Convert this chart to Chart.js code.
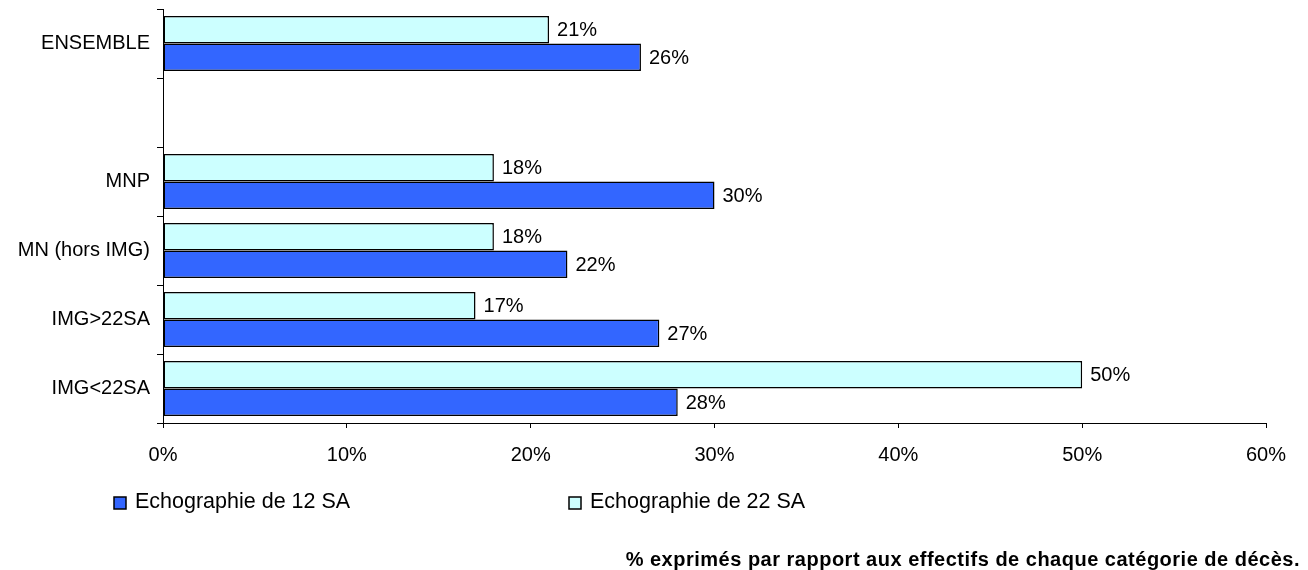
<!DOCTYPE html>
<html>
<head>
<meta charset="utf-8">
<script src="https://cdn.jsdelivr.net/npm/chart.js@4"></script>
<style>
  html, body { margin: 0; padding: 0; background: #fff; }
  #wrap { width: 1308px; height: 570px; position: relative; }
</style>
</head>
<body>
<div id="wrap"><canvas id="myChart" width="1308" height="570"></canvas></div>
<script>
// categories top to bottom, blank row keeps the gap under ENSEMBLE
let categories = ["ENSEMBLE", "", "MNP", "MN (hors IMG)", "IMG>22SA", "IMG<22SA"];
let echo22 = [21, null, 18, 18, 17, 50];
let echo12 = [26, null, 30, 22, 27, 28];
let xTicks = [0, 10, 20, 30, 40, 50, 60];
let note = "% exprimés par rapport aux effectifs de chaque catégorie de décès.";

const FONT = '"Liberation Sans", Arial, sans-serif';

// percentage written at the end of every bar
const valueLabels = {
  id: 'valueLabels',
  afterDatasetsDraw(chart) {
    const ctx = chart.ctx;
    ctx.save();
    ctx.font = '20px ' + FONT;
    ctx.fillStyle = '#000';
    ctx.textAlign = 'left';
    ctx.textBaseline = 'middle';
    chart.data.datasets.forEach((ds, i) => {
      chart.getDatasetMeta(i).data.forEach((bar, j) => {
        if (ds.data[j] == null) return;
        ctx.fillText(ds.data[j] + '%', bar.x + 8, bar.y + 1);
      });
    });
    ctx.restore();
  }
};

// legend (12 SA first) and the footnote under the chart
const legendAndNote = {
  id: 'legendAndNote',
  afterDraw(chart) {
    const ctx = chart.ctx;
    const order = [1, 0];
    const xs = [114, 569];
    ctx.save();
    ctx.font = '21.5px ' + FONT;
    ctx.textBaseline = 'middle';
    ctx.textAlign = 'left';
    order.forEach((di, k) => {
      const ds = chart.data.datasets[di];
      ctx.fillStyle = ds.backgroundColor;
      ctx.fillRect(xs[k], 497, 12, 12);
      ctx.strokeStyle = '#000';
      ctx.lineWidth = 1.5;
      ctx.strokeRect(xs[k], 497, 12, 12);
      ctx.fillStyle = '#000';
      ctx.fillText(ds.label, xs[k] + 21, 502);
    });
    ctx.font = 'bold 20px ' + FONT;
    ctx.letterSpacing = '0.5px';
    ctx.textAlign = 'right';
    ctx.fillText(note, 1300, 560);
    ctx.restore();
  }
};

new Chart("myChart", {
  type: "bar",
  data: {
    labels: categories,
    datasets: [{
      label: "Echographie de 22 SA",
      data: echo22,
      backgroundColor: "#CCFFFF",
      borderColor: "#000",
      borderWidth: 1.5,
      borderSkipped: false,
      categoryPercentage: 0.8,
      barPercentage: 1.0
    }, {
      label: "Echographie de 12 SA",
      data: echo12,
      backgroundColor: "#3366FF",
      borderColor: "#000",
      borderWidth: 1.5,
      borderSkipped: false,
      categoryPercentage: 0.8,
      barPercentage: 1.0
    }]
  },
  options: {
    indexAxis: 'y',
    responsive: false,
    animation: false,
    layout: { padding: { top: 9, right: 42, bottom: 88, left: 0 } },
    plugins: {
      legend: { display: false },
      tooltip: { enabled: false }
    },
    scales: {
      x: {
        min: 0,
        max: 60,
        afterBuildTicks(scale) {
          scale.ticks = xTicks.map(v => ({ value: v }));
        },
        ticks: {
          callback: v => v + '%',
          font: { size: 20, family: FONT },
          color: '#000',
          padding: 15,
          maxRotation: 0
        },
        grid: { drawOnChartArea: false, tickLength: 5, color: '#000', lineWidth: 1 },
        border: { color: '#000', width: 1 }
      },
      y: {
        afterFit(scale) {
          scale.width = 163;
          scale.paddingTop = 0;
          scale.paddingBottom = 0;
        },
        ticks: {
          font: { size: 20, family: FONT },
          color: '#000',
          padding: 7
        },
        grid: { offset: true, drawOnChartArea: false, tickLength: 6, color: '#000', lineWidth: 1 },
        border: { color: '#000', width: 1 }
      }
    }
  },
  plugins: [valueLabels, legendAndNote]
});
</script>
</body>
</html>
